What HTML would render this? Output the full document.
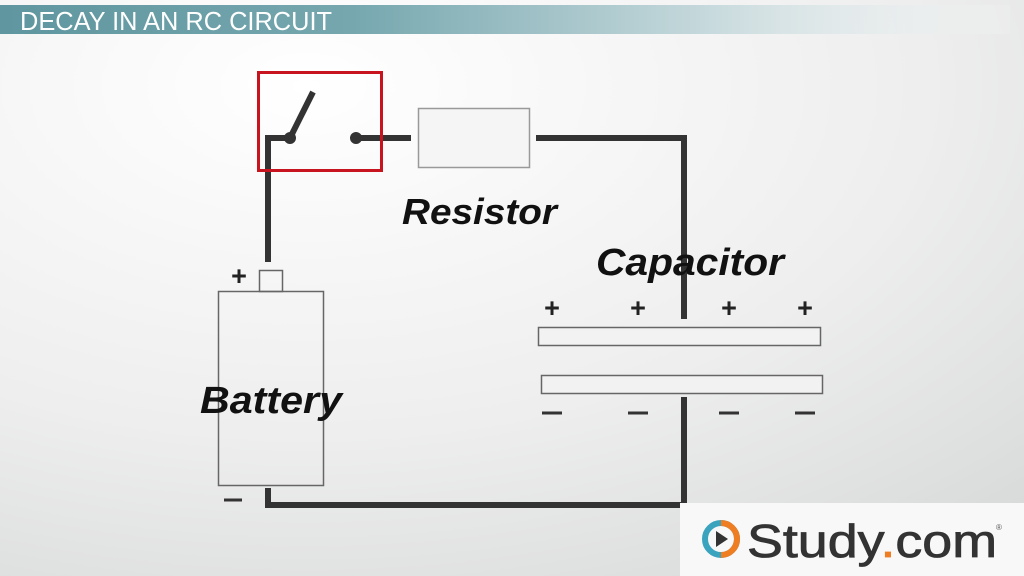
<!DOCTYPE html>
<html><head><meta charset="utf-8"><style>
html,body{margin:0;padding:0;}
body{width:1024px;height:576px;overflow:hidden;background:#eee;}
svg{display:block}
</style></head><body>
<svg width="1024" height="576" viewBox="0 0 1024 576" xmlns="http://www.w3.org/2000/svg">
<defs>
<linearGradient id="bar" x1="0" x2="1" y1="0" y2="0">
<stop offset="0" stop-color="#5f969f"/>
<stop offset="0.35" stop-color="#76a7af"/>
<stop offset="0.7" stop-color="#c6d9dc"/>
<stop offset="1" stop-color="#f4f6f6" stop-opacity="0.2"/>
</linearGradient>
<radialGradient id="bg" cx="0.3" cy="0.15" r="1.1">
<stop offset="0" stop-color="#ffffff"/>
<stop offset="0.55" stop-color="#eeeeee"/>
<stop offset="1" stop-color="#d4d6d6"/>
</radialGradient>
</defs>
<rect width="1024" height="576" fill="url(#bg)"/>
<rect x="0" y="5" width="1010" height="29" fill="url(#bar)"/>
<text x="20" y="30" font-family="Liberation Sans Narrow, Liberation Sans, sans-serif" font-size="26" fill="#fff" textLength="312" lengthAdjust="spacingAndGlyphs">DECAY IN AN RC CIRCUIT</text>

<g stroke="#333" stroke-width="6" fill="none">
<polyline points="268,262 268,138 290,138"/>
<line x1="290" y1="138" x2="313" y2="92"/>
<line x1="356" y1="138" x2="411" y2="138"/>
<polyline points="536,138 684,138 684,319"/>
<polyline points="684,397 684,505 268,505 268,488"/>
</g>
<circle cx="290" cy="138" r="6" fill="#333"/>
<circle cx="356" cy="138" r="6" fill="#333"/>
<rect x="258.5" y="72.5" width="123" height="98" fill="none" stroke="#c8141e" stroke-width="3"/>
<rect x="418.5" y="108.5" width="111" height="59" fill="#f5f5f5" stroke="#999" stroke-width="1.5"/>

<rect x="218.5" y="291.5" width="105" height="194" fill="none" stroke="#666" stroke-width="1.5"/>
<rect x="259.5" y="270.5" width="23" height="21" fill="none" stroke="#666" stroke-width="1.5"/>
<rect x="538.5" y="327.5" width="282" height="18" fill="#f2f2f2" stroke="#666" stroke-width="1.5"/>
<rect x="541.5" y="375.5" width="281" height="18" fill="#f2f2f2" stroke="#666" stroke-width="1.5"/>

<g font-family="Liberation Sans, sans-serif" font-weight="bold" font-size="27" fill="#222" text-anchor="middle">
<text x="239" y="285">+</text>
<text x="552" y="317">+</text>
<text x="638" y="317">+</text>
<text x="729" y="317">+</text>
<text x="805" y="317">+</text>
</g>
<g stroke="#333" stroke-width="3">
<line x1="224" y1="500" x2="242" y2="500"/>
<line x1="542" y1="413" x2="562" y2="413"/>
<line x1="628" y1="413" x2="648" y2="413"/>
<line x1="719" y1="413" x2="739" y2="413"/>
<line x1="795" y1="413" x2="815" y2="413"/>
</g>

<g font-family="Liberation Sans, sans-serif" font-weight="bold" font-style="italic" fill="#111">
<text x="402" y="224" font-size="36" textLength="155" lengthAdjust="spacingAndGlyphs">Resistor</text>
<text x="596" y="275" font-size="38" textLength="188" lengthAdjust="spacingAndGlyphs">Capacitor</text>
<text x="200" y="413" font-size="38" textLength="142" lengthAdjust="spacingAndGlyphs">Battery</text>
</g>

<rect x="680" y="503" width="344" height="73" fill="#f8f8f8"/>
<circle cx="721" cy="539" r="16" fill="none" stroke="#3aa3bd" stroke-width="6"/>
<path d="M721 523 A16 16 0 0 1 721 555" fill="none" stroke="#ef7d22" stroke-width="6"/>
<polygon points="716,531 716,547 728,539" fill="#333"/>
<text x="747" y="557" font-family="Liberation Sans, sans-serif" font-size="46" fill="#333" stroke="#333" stroke-width="0.8" textLength="250" lengthAdjust="spacingAndGlyphs">Study<tspan fill="#ef7d22" stroke="#ef7d22">.</tspan>com</text>
<text x="996" y="530" font-family="Liberation Sans, sans-serif" font-size="8" fill="#555">®</text>
</svg>
</body></html>
